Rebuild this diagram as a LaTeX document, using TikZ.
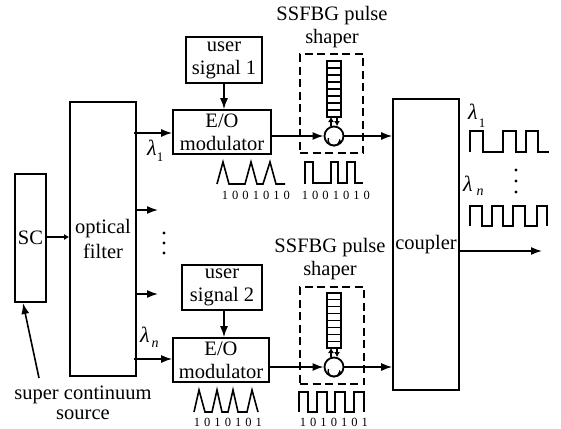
\documentclass[tikz,border=0pt]{standalone}
\usepackage{fontspec}
\setmainfont{Liberation Serif}
\usetikzlibrary{arrows.meta}
\tikzset{
 blk/.style={draw,line width=1.6pt,inner sep=0pt,align=center,font=\fontsize{20.5}{23}\selectfont},
 lab/.style={inner sep=0pt,align=center,font=\fontsize{20.5}{23}\selectfont},
 bits/.style={inner sep=0pt,font=\fontsize{12.5}{14}\selectfont},
 sig/.style={line width=1.6pt,-{Latex[length=11pt,width=8pt]}},
 smallsig/.style={line width=1.2pt,-{Latex[length=5pt,width=6pt]}},
 wave/.style={line width=1.6pt,line join=miter},
 shaper/.style={draw,line width=1.6pt,dash pattern=on 8pt off 4.5pt,inner sep=0pt},
 lam/.style={inner sep=0pt,font=\fontsize{22}{22}\selectfont\itshape},
 lamsub/.style={inner sep=0pt,font=\fontsize{13}{14}\selectfont},
 lamsubn/.style={inner sep=0pt,font=\fontsize{14}{14}\selectfont\itshape},
 circ/.style={circle,draw,line width=1.8pt,minimum size=19pt,inner sep=0pt},
 dot/.style={circle,fill,inner sep=0pt,minimum size=3.4pt}
}
\begin{document}
\begin{tikzpicture}[x=1pt,y=-1pt]
\useasboundingbox (0,0) rectangle (561,428);
\fill[white] (0,0) rectangle (561,428);
% boxes
\node[blk,minimum width=31pt,minimum height=128pt] (sc) at (30.5,238) {SC};
\node[blk,minimum width=66pt,minimum height=274pt] (filt) at (103,239) {optical\\[2pt]filter};
\node[blk,minimum width=76pt,minimum height=46pt] (us1) at (224,60) {user\\signal 1};
\node[blk,minimum width=80pt,minimum height=45pt] (us2) at (222,287.5) {user\\signal 2};
\node[blk,minimum width=98pt,minimum height=44pt] (eo1) at (222,132) {E/O\\modulator};
\node[blk,minimum width=96pt,minimum height=44pt] (eo2) at (221,360) {E/O\\modulator};
\node[blk,minimum width=66pt,minimum height=291pt] (coup) at (426,244.5) {coupler};
\node[shaper,minimum width=63pt,minimum height=99pt] (ds1) at (331.5,103.5) {};
\node[shaper,minimum width=64pt,minimum height=97pt] (ds2) at (332,335.5) {};
% texts
\node[lab] (t1) at (332,27) {SSFBG pulse\\shaper};
\node[lab] (t2) at (330,259) {SSFBG pulse\\shaper};
\node[lab,font=\fontsize{20.5}{20}\selectfont] (t3) at (83,403) {super continuum\\source};
% gratings
\foreach \n/\t/\b in {g1/61/117,g2/293/348}{
 \pgfmathsetmacro{\h}{\b-\t}
 \pgfmathsetmacro{\m}{(\t+\b)/2}
 \node[draw,line width=1.5pt,minimum width=14pt,minimum height=\h pt,inner sep=0pt] (\n) at (334,\m) {};
 \foreach \i in {1,...,7}{\draw[line width=1.2pt] (327,{\t+\h*\i/8}) -- (341,{\t+\h*\i/8});}
}
% circulators
\foreach \n/\y in {c1/136,c2/367}{
 \node[circ] (\n) at (334,\y) {};
 \draw[line width=1.4pt,-{Latex[length=4pt,width=4pt]}] (328.5,\y+2) arc[start angle=200,end angle=-10,radius=5.7];
}
% connectors
\coordinate (sa) at (46,237);
\draw[smallsig] (sa) -- (filt.west|-sa);
\coordinate (s0) at (39,378);
\coordinate (s1) at (23,303);
\draw[sig] (s0) -- (s1);
\coordinate (a1) at (224,83);
\coordinate (a2) at (224,310);
\draw[sig] (a1) -- (eo1.north-|a1);
\draw[sig] (a2) -- (eo2.north-|a2);
\coordinate (f1) at (134,133);
\coordinate (f2) at (134,359);
\draw[sig] (f1) -- (eo1.west|-f1);
\draw[sig] (f2) -- (eo2.west|-f2);
\coordinate (f3) at (136,210);
\coordinate (f4) at (136,294);
\coordinate (e3) at (158,210);
\coordinate (e4) at (158,294);
\draw[sig] (f3) -- (e3);
\draw[sig] (f4) -- (e4);
\draw[sig] (eo1.east|-c1) -- (c1.west);
\draw[sig] (eo2.east|-c2) -- (c2.west);
\draw[sig] (c1.east) -- (coup.west|-c1);
\draw[sig] (c2.east) -- (coup.west|-c2);
\foreach \c/\g/\yy in {c1/g1/117,c2/g2/348}{
 \draw[smallsig] (331,\yy+9) -- (331,\yy);
 \draw[smallsig] (337,\yy) -- (337,\yy+9);
}
\coordinate (o) at (542,251);
\draw[sig] (coup.east|-o) -- (o);
% dots
\foreach \y in {233,243,253}{\node[dot] at (164,\y) {};}
\foreach \y in {170,181,192}{\node[dot] at (516,\y) {};}
% wavelength labels
\node[lam] (l1) at (152,148) {λ};
\node[lamsub] at (160,157) {1};
\node[lam] (ln) at (145,335) {λ};
\node[lamsubn] at (155,344) {n};
\node[lam] at (473,112) {λ};
\node[lamsub] at (482,123) {1};
\node[lam] at (468,184) {λ};
\node[lamsubn] at (480,192) {n};
% waveforms
\draw[wave] (217,184)--(223,162)--(229,184)--(245,184)--(251,162)--(257,184)--(263,184)--(270,162)--(276,184)--(285,184);
\draw[wave] (305,184)--(305,162)--(313,162)--(313,183)--(331,183)--(331,162)--(338,162)--(338,183)--(347,183)--(347,162)--(355,162)--(355,183)--(363,183);
\draw[wave] (194,412)--(199,390)--(205,412)--(212,412)--(217,390)--(222,412)--(228,412)--(233,390)--(238,412)--(247,412)--(252,390)--(258,412);
\draw[wave] (299,412)--(299,392)--(308,392)--(308,412)--(317,412)--(317,392)--(327,392)--(327,412)--(335,412)--(335,392)--(345,392)--(345,412)--(354,412)--(354,392)--(364,392)--(364,412);
\draw[wave] (470,152)--(470,131)--(483,131)--(483,152)--(503,152)--(503,131)--(516,131)--(516,152)--(526,152)--(526,131)--(538,131)--(538,152)--(549,152);
\draw[wave] (470,226)--(470,206)--(482,206)--(482,226)--(492,226)--(492,206)--(503,206)--(503,226)--(513,226)--(513,206)--(525,206)--(525,226)--(537,226)--(537,206)--(547,206)--(547,226);
% bits
\foreach \i/\b in {0/1,1/0,2/0,3/1,4/0,5/1,6/0}{
 \node[bits] at ({225+\i*10.3},195) {\b};
 \node[bits] at ({305+\i*10.3},195) {\b};
}
\foreach \i/\b in {0/1,1/0,2/1,3/0,4/1,5/0,6/1}{
 \node[bits] at ({197+\i*10.3},422) {\b};
 \node[bits] at ({303+\i*10.3},422) {\b};
}
\end{tikzpicture}
\end{document}
